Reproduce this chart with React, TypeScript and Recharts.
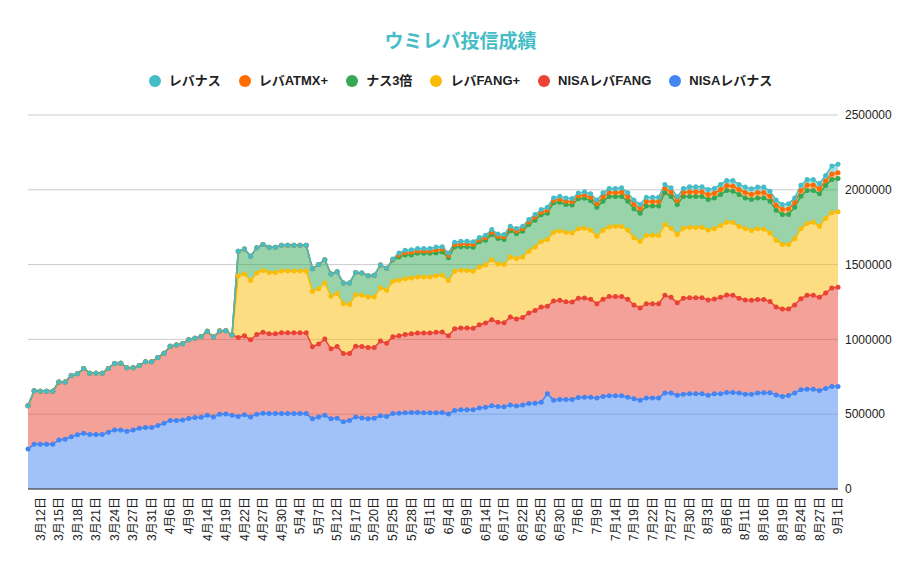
import { Area, CartesianGrid, ComposedChart, Line, XAxis, YAxis } from "recharts";

const FONT = '"Liberation Sans", Arial, "Noto Sans CJK JP", sans-serif';

// 日付（データ点ごと）
const DATES = [
  "3月10日", "3月11日", "3月12日", "3月13日", "3月14日", "3月15日", "3月16日", "3月17日", "3月18日", "3月19日",
  "3月20日", "3月21日", "3月22日", "3月23日", "3月24日", "3月25日", "3月26日", "3月27日", "3月28日", "3月30日",
  "3月31日", "4月2日", "4月4日", "4月6日", "4月7日", "4月8日", "4月9日", "4月10日", "4月12日", "4月14日",
  "4月15日", "4月17日", "4月19日", "4月20日", "4月21日", "4月22日", "4月24日", "4月26日", "4月27日", "4月28日",
  "4月29日", "4月30日", "5月1日", "5月3日", "5月4日", "5月5日", "5月6日", "5月7日", "5月9日", "5月11日",
  "5月12日", "5月14日", "5月15日", "5月17日", "5月18日", "5月19日", "5月20日", "5月21日", "5月23日", "5月25日",
  "5月26日", "5月27日", "5月28日", "5月29日", "5月31日", "6月1日", "6月2日", "6月3日", "6月4日", "6月6日",
  "6月8日", "6月9日", "6月10日", "6月12日", "6月14日", "6月15日", "6月16日", "6月17日", "6月19日", "6月21日",
  "6月22日", "6月23日", "6月24日", "6月25日", "6月27日", "6月29日", "6月30日", "7月2日", "7月4日", "7月6日",
  "7月7日", "7月8日", "7月9日", "7月11日", "7月13日", "7月14日", "7月16日", "7月18日", "7月19日", "7月20日",
  "7月21日", "7月22日", "7月24日", "7月26日", "7月27日", "7月28日", "7月29日", "7月30日", "8月1日", "8月2日",
  "8月3日", "8月4日", "8月5日", "8月6日", "8月8日", "8月10日", "8月11日", "8月13日", "8月15日", "8月16日",
  "8月17日", "8月18日", "8月19日", "8月21日", "8月23日", "8月24日", "8月25日", "8月26日", "8月27日", "8月29日",
  "8月31日", "9月1日",
];

// 軸に出す日付（3点おき）
const X_LABELS = [
  "3月12日", "3月15日", "3月18日", "3月21日", "3月24日", "3月27日", "3月31日", "4月6日", "4月9日", "4月14日",
  "4月19日", "4月22日", "4月27日", "4月30日", "5月4日", "5月7日", "5月12日", "5月17日", "5月20日", "5月25日",
  "5月28日", "6月1日", "6月4日", "6月9日", "6月14日", "6月17日", "6月22日", "6月25日", "6月30日", "7月6日",
  "7月9日", "7月14日", "7月19日", "7月22日", "7月27日", "7月30日", "8月3日", "8月6日", "8月11日", "8月16日",
  "8月19日", "8月24日", "8月27日", "9月1日",
];

const Y_TICKS = [0, 500000, 1000000, 1500000, 2000000, 2500000];

const NISA_LEVNAS = [
  268000, 299000, 299000, 299000, 299000, 328000, 333000, 350000, 362000, 373000,
  364000, 364000, 364000, 379000, 395000, 395000, 386000, 395000, 406000, 411000,
  411000, 424000, 440000, 458000, 458000, 462000, 471000, 478000, 480000, 493000,
  482000, 500000, 502000, 493000, 484000, 496000, 482000, 500000, 507000, 504000,
  504000, 504000, 504000, 504000, 504000, 504000, 469000, 482000, 493000, 469000,
  473000, 449000, 458000, 482000, 475000, 469000, 473000, 489000, 484000, 504000,
  507000, 509000, 511000, 511000, 509000, 509000, 509000, 511000, 502000, 525000,
  529000, 529000, 529000, 542000, 547000, 556000, 551000, 549000, 562000, 554000,
  562000, 571000, 574000, 580000, 636000, 594000, 598000, 598000, 598000, 612000,
  614000, 614000, 609000, 618000, 623000, 623000, 623000, 614000, 603000, 594000,
  609000, 609000, 609000, 641000, 641000, 627000, 634000, 636000, 636000, 636000,
  627000, 636000, 636000, 645000, 645000, 641000, 634000, 634000, 641000, 643000,
  643000, 629000, 618000, 625000, 641000, 663000, 667000, 667000, 658000, 672000,
  685000, 685000,
];

const NISA_FANG = [
  288000, 357000, 355000, 355000, 355000, 388000, 383000, 409000, 408000, 433000,
  410000, 410000, 410000, 427000, 444000, 446000, 424000, 415000, 420000, 439000,
  439000, 455000, 468000, 497000, 504000, 509000, 527000, 529000, 540000, 561000,
  534000, 556000, 556000, 536000, 529000, 528000, 516000, 533000, 540000, 534000,
  534000, 541000, 541000, 541000, 541000, 541000, 482000, 487000, 509000, 468000,
  480000, 457000, 448000, 473000, 478000, 477000, 473000, 500000, 491000, 514000,
  517000, 524000, 527000, 531000, 533000, 533000, 538000, 538000, 522000, 546000,
  547000, 547000, 545000, 556000, 562000, 576000, 563000, 563000, 588000, 582000,
  585000, 605000, 620000, 636000, 585000, 663000, 663000, 654000, 652000, 663000,
  663000, 654000, 630000, 650000, 663000, 663000, 663000, 654000, 627000, 616000,
  630000, 630000, 630000, 654000, 640000, 618000, 641000, 643000, 643000, 643000,
  636000, 634000, 645000, 652000, 650000, 634000, 629000, 627000, 625000, 623000,
  611000, 587000, 585000, 578000, 589000, 609000, 628000, 628000, 623000, 638000,
  659000, 663000,
];

const FANG_PLUS = [
  0, 0, 0, 0, 0, 0, 0, 0, 0, 0,
  0, 0, 0, 0, 0, 0, 0, 0, 0, 0,
  0, 0, 0, 0, 0, 0, 0, 0, 0, 0,
  0, 0, 0, 0, 413000, 413000, 395000, 411000, 413000, 410000,
  410000, 412000, 412000, 412000, 412000, 412000, 370000, 370000, 375000, 351000,
  353000, 333000, 328000, 344000, 342000, 337000, 337000, 355000, 353000, 371000,
  371000, 373000, 373000, 375000, 375000, 375000, 379000, 379000, 369000, 384000,
  386000, 384000, 381000, 386000, 389000, 401000, 390000, 388000, 401000, 404000,
  404000, 413000, 424000, 438000, 446000, 459000, 464000, 464000, 462000, 464000,
  466000, 462000, 451000, 462000, 466000, 471000, 469000, 462000, 449000, 444000,
  455000, 457000, 455000, 473000, 462000, 454000, 468000, 469000, 469000, 469000,
  469000, 469000, 480000, 486000, 486000, 479000, 476000, 467000, 473000, 471000,
  458000, 447000, 431000, 431000, 442000, 467000, 479000, 488000, 476000, 498000,
  502000, 505000,
];

const NAS3 = [
  0, 0, 0, 0, 0, 0, 0, 0, 0, 0,
  0, 0, 0, 0, 0, 0, 0, 0, 0, 0,
  0, 0, 0, 0, 0, 0, 0, 0, 0, 0,
  0, 0, 0, 0, 163000, 168000, 163000, 168000, 174000, 168000,
  168000, 172000, 172000, 172000, 172000, 172000, 152000, 161000, 156000, 149000,
  147000, 138000, 143000, 149000, 149000, 143000, 145000, 154000, 147000, 141000,
  156000, 159000, 154000, 159000, 159000, 159000, 152000, 157000, 152000, 163000,
  158000, 160000, 161000, 168000, 165000, 168000, 170000, 167000, 176000, 167000,
  172000, 179000, 179000, 179000, 177000, 197000, 192000, 186000, 187000, 201000,
  201000, 196000, 194000, 194000, 203000, 198000, 200000, 194000, 194000, 190000,
  197000, 195000, 197000, 212000, 212000, 203000, 212000, 207000, 207000, 207000,
  203000, 207000, 208000, 212000, 210000, 215000, 207000, 207000, 207000, 209000,
  212000, 201000, 201000, 201000, 212000, 218000, 221000, 212000, 216000, 221000,
  223000, 223000,
];

const ATMX = [
  0, 0, 0, 0, 0, 0, 0, 0, 0, 0,
  0, 0, 0, 0, 0, 0, 0, 0, 0, 0,
  0, 0, 0, 0, 0, 0, 0, 0, 0, 0,
  0, 0, 0, 0, 0, 0, 0, 0, 0, 0,
  0, 0, 0, 0, 0, 0, 0, 0, 0, 0,
  0, 0, 0, 0, 0, 0, 0, 0, 0, 4000,
  13000, 15000, 17000, 15000, 15000, 15000, 20000, 17000, 16000, 15000,
  18000, 18000, 18000, 14000, 16000, 16000, 15000, 17000, 15000, 17000,
  17000, 16000, 19000, 17000, 20000, 16000, 20000, 22000, 21000, 19000,
  21000, 23000, 23000, 28000, 27000, 27000, 29000, 28000, 29000, 29000,
  30000, 30000, 30000, 28000, 29000, 25000, 27000, 32000, 32000, 32000,
  33000, 31000, 33000, 33000, 35000, 33000, 36000, 36000, 36000, 36000,
  33000, 33000, 35000, 36000, 31000, 37000, 37000, 37000, 34000, 30000,
  37000, 38000,
];

const LEVNAS = [
  0, 0, 0, 0, 0, 0, 0, 0, 0, 0,
  0, 0, 0, 0, 0, 0, 0, 0, 0, 0,
  0, 0, 0, 0, 0, 0, 0, 0, 0, 0,
  0, 0, 0, 0, 0, 0, 0, 0, 0, 0,
  0, 0, 0, 0, 0, 0, 0, 0, 0, 0,
  0, 0, 0, 0, 0, 0, 0, 0, 0, 4000,
  14000, 16000, 18000, 16000, 16000, 16000, 20000, 18000, 17000, 16000,
  18000, 18000, 18000, 15000, 17000, 17000, 16000, 17000, 15000, 17000,
  17000, 17000, 19000, 18000, 20000, 17000, 20000, 22000, 22000, 19000,
  22000, 24000, 24000, 28000, 27000, 27000, 29000, 28000, 29000, 29000,
  30000, 30000, 30000, 28000, 29000, 26000, 27000, 33000, 33000, 33000,
  34000, 32000, 34000, 34000, 36000, 34000, 36000, 36000, 36000, 36000,
  34000, 34000, 32000, 35000, 31000, 37000, 37000, 37000, 35000, 37000,
  53000, 56000,
];

type Series = { key: string; name: string; color: string; values: number[] };

// 積み上げ順（下から）
const SERIES: Series[] = [
  { key: "nisaLevnas", name: "NISAレバナス", color: "#4285f4", values: NISA_LEVNAS },
  { key: "nisaFang", name: "NISAレバFANG", color: "#ea4335", values: NISA_FANG },
  { key: "fangPlus", name: "レバFANG+", color: "#fbbc04", values: FANG_PLUS },
  { key: "nas3", name: "ナス3倍", color: "#34a853", values: NAS3 },
  { key: "atmx", name: "レバATMX+", color: "#ff6d01", values: ATMX },
  { key: "levnas", name: "レバナス", color: "#46bdc6", values: LEVNAS },
];

// 塗りは Area の積み上げに任せ、線と点は積み上げた上端を Line で最前面に重ねる
const data = DATES.map((date, i) => {
  const row: Record<string, string | number> = { date };
  let top = 0;
  for (const s of SERIES) {
    row[s.key] = s.values[i];
    top += s.values[i];
    row[`${s.key}Top`] = top;
  }
  return row;
});

function DateTick({ x, y, payload }: { x: number; y: number; payload: { value: string } }) {
  return (
    <text
      x={x}
      y={y}
      transform={`rotate(-90, ${x}, ${y})`}
      textAnchor="end"
      dy="0.35em"
      fontSize={12}
      fill="#222"
      fontFamily={FONT}
    >
      {payload.value}
    </text>
  );
}

export default function App() {
  return (
    <div style={{ position: "relative", width: 905, height: 553, fontFamily: FONT }}>
      <ComposedChart
        width={905}
        height={553}
        data={data}
        margin={{ top: 107, right: 0, bottom: 8, left: 20 }}
      >
        <CartesianGrid vertical={false} stroke="#cccccc" />
        <XAxis
          dataKey="date"
          ticks={X_LABELS}
          interval={0}
          height={64}
          tickSize={0}
          tickMargin={8}
          tickLine={false}
          axisLine={{ stroke: "#333333" }}
          tick={DateTick}
        />
        <YAxis
          orientation="right"
          width={75}
          domain={[0, 2500000]}
          ticks={Y_TICKS}
          tickSize={0}
          tickMargin={7}
          tickLine={false}
          axisLine={false}
          tick={{ fontSize: 12, fill: "#222", fontFamily: FONT }}
        />
        {SERIES.map((s) => (
          <Area
            key={`fill-${s.key}`}
            type="linear"
            dataKey={s.key}
            name={s.name}
            stackId="fill"
            stroke="none"
            fill={s.color}
            fillOpacity={0.5}
            dot={false}
            activeDot={false}
            isAnimationActive={false}
          />
        ))}
        {SERIES.map((s) => (
          <Line
            key={`line-${s.key}`}
            type="linear"
            dataKey={`${s.key}Top`}
            name={s.name}
            stroke={s.color}
            strokeWidth={1.5}
            dot={{ r: 2.5, fill: s.color, stroke: "none" }}
            activeDot={false}
            isAnimationActive={false}
          />
        ))}
      </ComposedChart>

      <div
        style={{
          position: "absolute",
          top: 22,
          left: 0,
          width: 905,
          textAlign: "center",
          fontSize: 19,
          fontWeight: 700,
          color: "#46bdc6",
          lineHeight: "24px",
        }}
      >
        ウミレバ投信成績
      </div>

      <div
        style={{
          position: "absolute",
          top: 64,
          left: 0,
          width: 905,
          display: "flex",
          justifyContent: "center",
          gap: 18,
          fontSize: 13,
          fontWeight: 700,
          color: "#222",
          lineHeight: "18px",
        }}
      >
        {[...SERIES].reverse().map((s) => (
          <div key={s.key} style={{ display: "flex", alignItems: "center", gap: 8 }}>
            <span
              style={{
                display: "inline-block",
                width: 12,
                height: 12,
                borderRadius: "50%",
                background: s.color,
              }}
            />
            <span>{s.name}</span>
          </div>
        ))}
      </div>
    </div>
  );
}
